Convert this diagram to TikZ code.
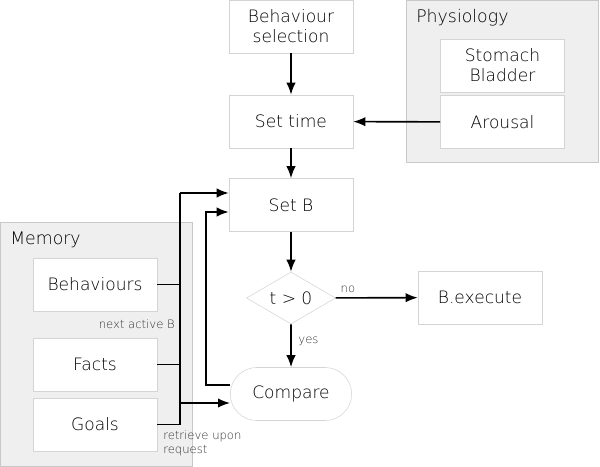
\documentclass[tikz,border=0pt]{standalone}
\usepackage{fontspec}
\setmainfont{DejaVu Sans}[UprightFont=* ExtraLight]
\usetikzlibrary{shapes.geometric,shapes.misc,arrows.meta}
\definecolor{boxline}{HTML}{D4D4D4}
\definecolor{grpfill}{HTML}{EFEFEF}
\definecolor{grpline}{HTML}{C8C8C8}
\definecolor{textc}{HTML}{000000}
\definecolor{labc}{HTML}{333333}
\begin{document}
\begin{tikzpicture}[x=0.75pt,y=-0.75pt,
  box/.style={draw=boxline, fill=white, minimum width=93pt, minimum height=39.75pt, inner sep=1pt, align=center, font=\fontsize{12.8}{15}\selectfont, text=textc},
  grp/.style={draw=grpline, fill=grpfill, inner sep=0pt, anchor=north west},
  grplabel/.style={anchor=west, font=\fontsize{13}{14}\selectfont, text=textc, inner sep=0pt},
  dec/.style={draw=boxline, fill=white, diamond, aspect=1.7, minimum width=66.75pt, minimum height=39pt, inner sep=0pt, font=\fontsize{12.8}{14}\selectfont, text=textc},
  term/.style={draw=boxline, fill=white, rounded rectangle, minimum width=93pt, minimum height=39.75pt, inner sep=1pt, font=\fontsize{12.8}{14}\selectfont, text=textc},
  conn/.style={line width=1.2pt, draw=black},
  arr/.style={conn, -{Latex[length=9pt,width=7pt]}},
  small/.style={font=\fontsize{8.7}{11}\selectfont, text=labc, inner sep=0pt}
]
\useasboundingbox (0,0) rectangle (600,467);
% groups
\node[grp, minimum width=144pt, minimum height=183pt] (mem) at (0,222) {};
\node[grplabel] (memlab) at (10,240) {Memory};
\node[grp, minimum width=144pt, minimum height=121.5pt] (phys) at (406,0) {};
\node[grplabel] (physlab) at (416,18) {Physiology};
% boxes
\node[box] (bsel) at (291,26.5) {Behaviour\\selection};
\node[box] (stom) at (502.5,65.5) {Stomach\\Bladder};
\node[box] (arou) at (502.5,122) {Arousal};
\node[box] (stime) at (291,121.5) {Set time};
\node[box] (setb) at (291,205) {Set B};
\node[box] (beh) at (95,284.5) {Behaviours};
\node[box] (facts) at (95,364.5) {Facts};
\node[box] (goals) at (95,424.5) {Goals};
\node[dec] (tg) at (291,298) {t > 0};
\node[box] (bexe) at (480,297.5) {B.execute};
\node[term] (cmp) at (291,394) {Compare};
% coordinates
\coordinate (bt) at (180,193);
\coordinate (bb) at (180,425);
\coordinate (bc) at (180,403);
\coordinate (f1) at (206,385);
\coordinate (f2) at (206,212);
% connectors
\draw[arr] (bsel) -- (stime);
\draw[arr] (arou) -- (stime);
\draw[arr] (stime) -- (setb);
\draw[arr] (setb) -- (tg);
\draw[arr] (tg) -- node[small, above, pos=0.15, yshift=3pt] (no) {no} (bexe);
\draw[arr] (tg) -- node[small, right, pos=0.4, xshift=5pt] (yes) {yes} (cmp);
\draw[conn] (beh.east) -- (beh.east -| bt);
\draw[conn] (facts.east) -- (facts.east -| bt);
\draw[conn] (goals.east) -- (goals.east -| bt);
\draw[conn] (bt) -- (bb);
\draw[arr] (bt) -- (setb.west |- bt);
\draw[arr] (bc) -- (cmp.west |- bc);
\draw[arr] (cmp.west |- f1) -- (f1) -- (f2) -- (setb.west |- f2);
% labels
\node[small, anchor=east] (nab) at (175,324) {next active B};
\node[small, anchor=north west, align=left] (rur) at (163,430) {retrieve upon\\request};
\end{tikzpicture}
\end{document}
